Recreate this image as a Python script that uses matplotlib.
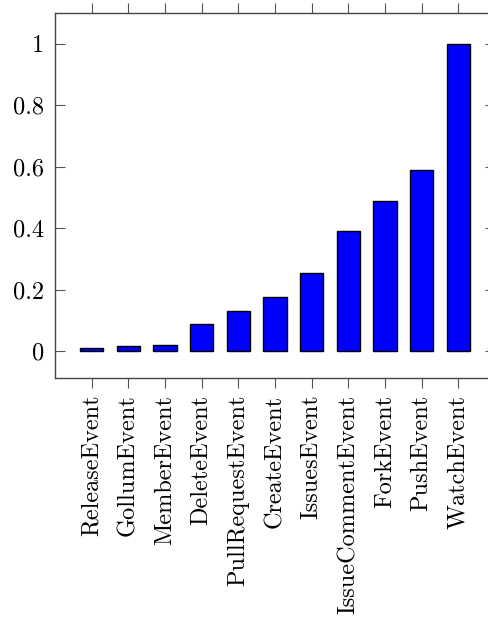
import matplotlib
matplotlib.use('Agg')
import matplotlib.pyplot as plt

eventos = ['ReleaseEvent', 'GollumEvent', 'MemberEvent', 'DeleteEvent', 'PullRequestEvent',
           'CreateEvent', 'IssuesEvent', 'IssueCommentEvent', 'ForkEvent', 'PushEvent', 'WatchEvent']
valores = [0.009, 0.015, 0.02, 0.089, 0.13, 0.175, 0.255, 0.391, 0.488, 0.589, 1.0]
yticks = [0, 0.2, 0.4, 0.6, 0.8, 1]
ytick_labels = ['0', '0.2', '0.4', '0.6', '0.8', '1']

plt.rcParams['font.family'] = 'serif'
plt.rcParams['font.serif'] = ['cmr10']
plt.rcParams['mathtext.fontset'] = 'cm'
plt.rcParams['axes.formatter.use_mathtext'] = True

fig = plt.figure(figsize=(4.88, 6.27), dpi=100)
W, H = 488, 627
ax = fig.add_axes([55 / W, (H - 378) / H, (495 - 55) / W, (378 - 13) / H])

x = list(range(len(eventos)))
ax.bar(x, valores, width=0.63, color='#0000ff', edgecolor='black', linewidth=1, zorder=3)

ax.set_xlim(-1, 11)
ax.set_ylim(-0.088, 1.1)
ax.set_xticks(x)
ax.set_xticklabels(eventos, rotation=90, fontsize=17.5)
ax.set_yticks(yticks)
ax.set_yticklabels(ytick_labels, fontsize=17.5)

ax.tick_params(axis='x', direction='out', top=True, bottom=True, length=7, width=0.8,
               color='#555555', pad=5)
ax.tick_params(axis='y', direction='in', left=True, right=True, length=7, width=0.8,
               color='#555555', pad=8)
for s in ax.spines.values():
    s.set_color('#444444')
    s.set_linewidth(1)

fig.savefig('out.png', dpi=100)
